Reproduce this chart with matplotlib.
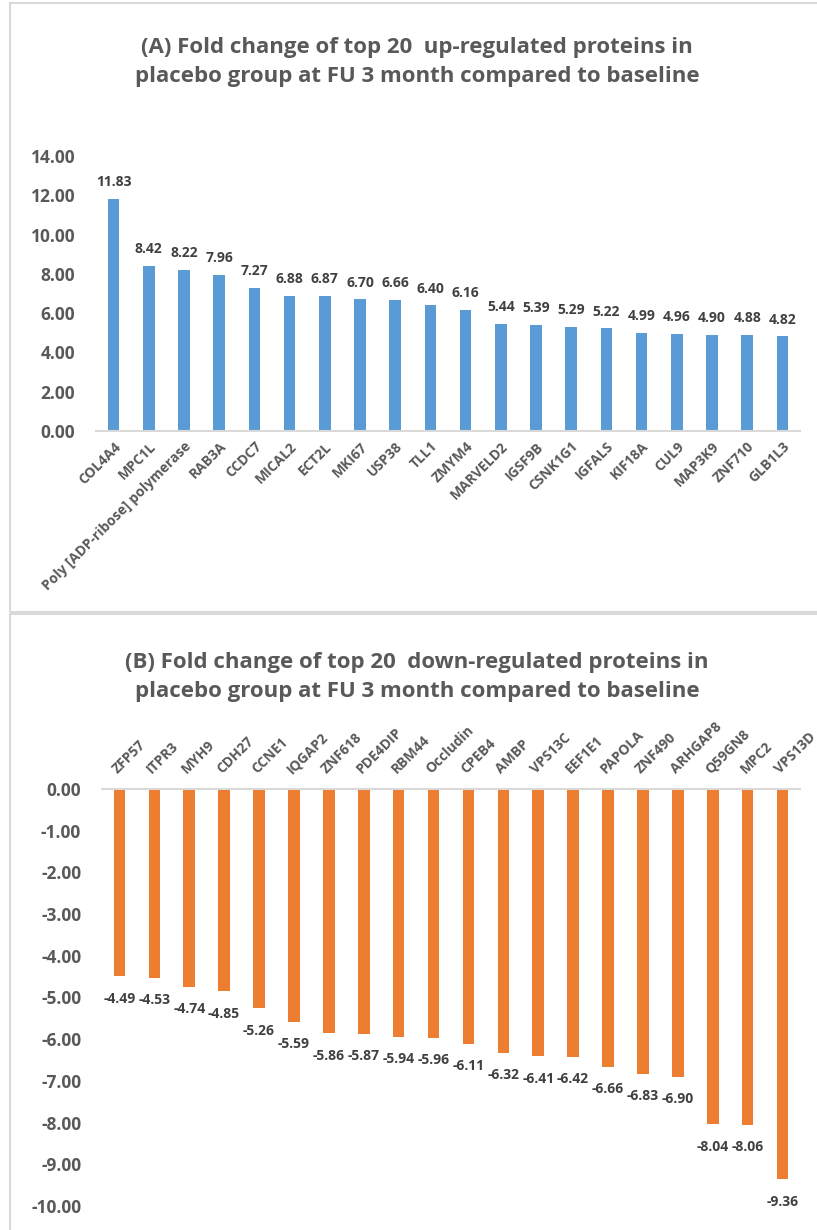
import matplotlib
matplotlib.use("Agg")
import matplotlib.pyplot as plt
from matplotlib.patches import Rectangle

# top 20 up-regulated
up_names = ["COL4A4", "MPC1L", "Poly [ADP-ribose] polymerase", "RAB3A", "CCDC7",
            "MICAL2", "ECT2L", "MKI67", "USP38", "TLL1", "ZMYM4", "MARVELD2",
            "IGSF9B", "CSNK1G1", "IGFALS", "KIF18A", "CUL9", "MAP3K9", "ZNF710", "GLB1L3"]
up_vals = [11.83, 8.42, 8.22, 7.96, 7.27, 6.88, 6.87, 6.70, 6.66, 6.40, 6.16, 5.44,
           5.39, 5.29, 5.22, 4.99, 4.96, 4.90, 4.88, 4.82]

# top 20 down-regulated
down_names = ["ZFP57", "ITPR3", "MYH9", "CDH27", "CCNE1", "IQGAP2", "ZNF618", "PDE4DIP",
              "RBM44", "Occludin", "CPEB4", "AMBP", "VPS13C", "EEF1E1", "PAPOLA",
              "ZNF490", "ARHGAP8", "Q59GN8", "MPC2", "VPS13D"]
down_vals = [-4.49, -4.53, -4.74, -4.85, -5.26, -5.59, -5.86, -5.87, -5.94, -5.96,
             -6.11, -6.32, -6.41, -6.42, -6.66, -6.83, -6.90, -8.04, -8.06, -9.36]

up_ticks = [0, 2, 4, 6, 8, 10, 12, 14]
down_ticks = [0, -1, -2, -3, -4, -5, -6, -7, -8, -9, -10]

plt.rcParams['font.family'] = ['Open Sans', 'DejaVu Sans']
plt.rcParams['font.weight'] = 'bold'
GRAY = '#595959'
DARK = '#404040'
LINE = '#D9D9D9'

W, H = 817, 1230
fig = plt.figure(figsize=(W / 100, H / 100), dpi=100)

# panel borders
fig.patches.append(Rectangle((10 / W, 1 - 612 / H), 830 / W, 609 / H, transform=fig.transFigure,
                             fill=False, ec=LINE, lw=1.5))
fig.patches.append(Rectangle((10 / W, -0.05), 830 / W, 1 - 614 / H + 0.05, transform=fig.transFigure,
                             fill=False, ec=LINE, lw=1.5))

fig.text(417 / W, 1 - 62 / H,
         "(A) Fold change of top 20  up-regulated proteins in\nplacebo group at FU 3 month compared to baseline",
         ha='center', va='center', fontsize=16, color=GRAY, fontweight='bold', linespacing=1.55)
fig.text(417 / W, 1 - 677 / H,
         "(B) Fold change of top 20  down-regulated proteins in\nplacebo group at FU 3 month compared to baseline",
         ha='center', va='center', fontsize=16, color=GRAY, fontweight='bold', linespacing=1.55)

# (A)
ax1 = fig.add_axes([96 / W, 1 - 431 / H, 704 / W, 275 / H])
x = range(len(up_vals))
bars = ax1.bar(x, up_vals, width=0.33, color='#5B9BD5')
ax1.set_xlim(-0.5, len(up_vals) - 0.5)
ax1.set_ylim(0, 14)
ax1.set_yticks(up_ticks)
ax1.set_yticklabels([f"{t:.2f}" for t in up_ticks])
ax1.set_xticks(list(x))
ax1.set_xticklabels(up_names, rotation=45, ha='right', va='top', rotation_mode='anchor')
for s in ['top', 'right', 'left']:
    ax1.spines[s].set_visible(False)
ax1.spines['bottom'].set_color(LINE)
ax1.spines['bottom'].set_linewidth(1.5)
ax1.tick_params(axis='y', length=0, pad=15, labelsize=12.5, labelcolor=GRAY)
ax1.tick_params(axis='x', length=0, pad=6, labelsize=10, labelcolor=GRAY)
for b, v in zip(bars, up_vals):
    ax1.annotate(f"{v:.2f}", (b.get_x() + b.get_width() / 2, v), xytext=(0, 7),
                 textcoords='offset points', ha='center', va='bottom',
                 fontsize=10, color=DARK, fontweight='bold')

# (B)
ax2 = fig.add_axes([102 / W, 1 - 1206 / H, 698 / W, 417 / H])
x = range(len(down_vals))
bars = ax2.bar(x, down_vals, width=0.33, color='#ED7D31')
ax2.set_xlim(-0.5, len(down_vals) - 0.5)
ax2.set_ylim(-10, 0)
ax2.set_yticks(down_ticks)
ax2.set_yticklabels([f"{t:.2f}" for t in down_ticks])
ax2.xaxis.tick_top()
ax2.set_xticks(list(x))
ax2.set_xticklabels(down_names, rotation=45, ha='left', va='bottom', rotation_mode='anchor')
for s in ['bottom', 'right', 'left']:
    ax2.spines[s].set_visible(False)
ax2.spines['top'].set_color(LINE)
ax2.spines['top'].set_linewidth(1.5)
ax2.tick_params(axis='y', length=0, pad=15, labelsize=12.5, labelcolor=GRAY)
ax2.tick_params(axis='x', length=0, pad=9, labelsize=10, labelcolor=GRAY)
for b, v in zip(bars, down_vals):
    ax2.annotate(f"{v:.2f}", (b.get_x() + b.get_width() / 2, v), xytext=(0, -11),
                 textcoords='offset points', ha='center', va='top',
                 fontsize=10, color=DARK, fontweight='bold')

fig.savefig("out.png", dpi=100)
